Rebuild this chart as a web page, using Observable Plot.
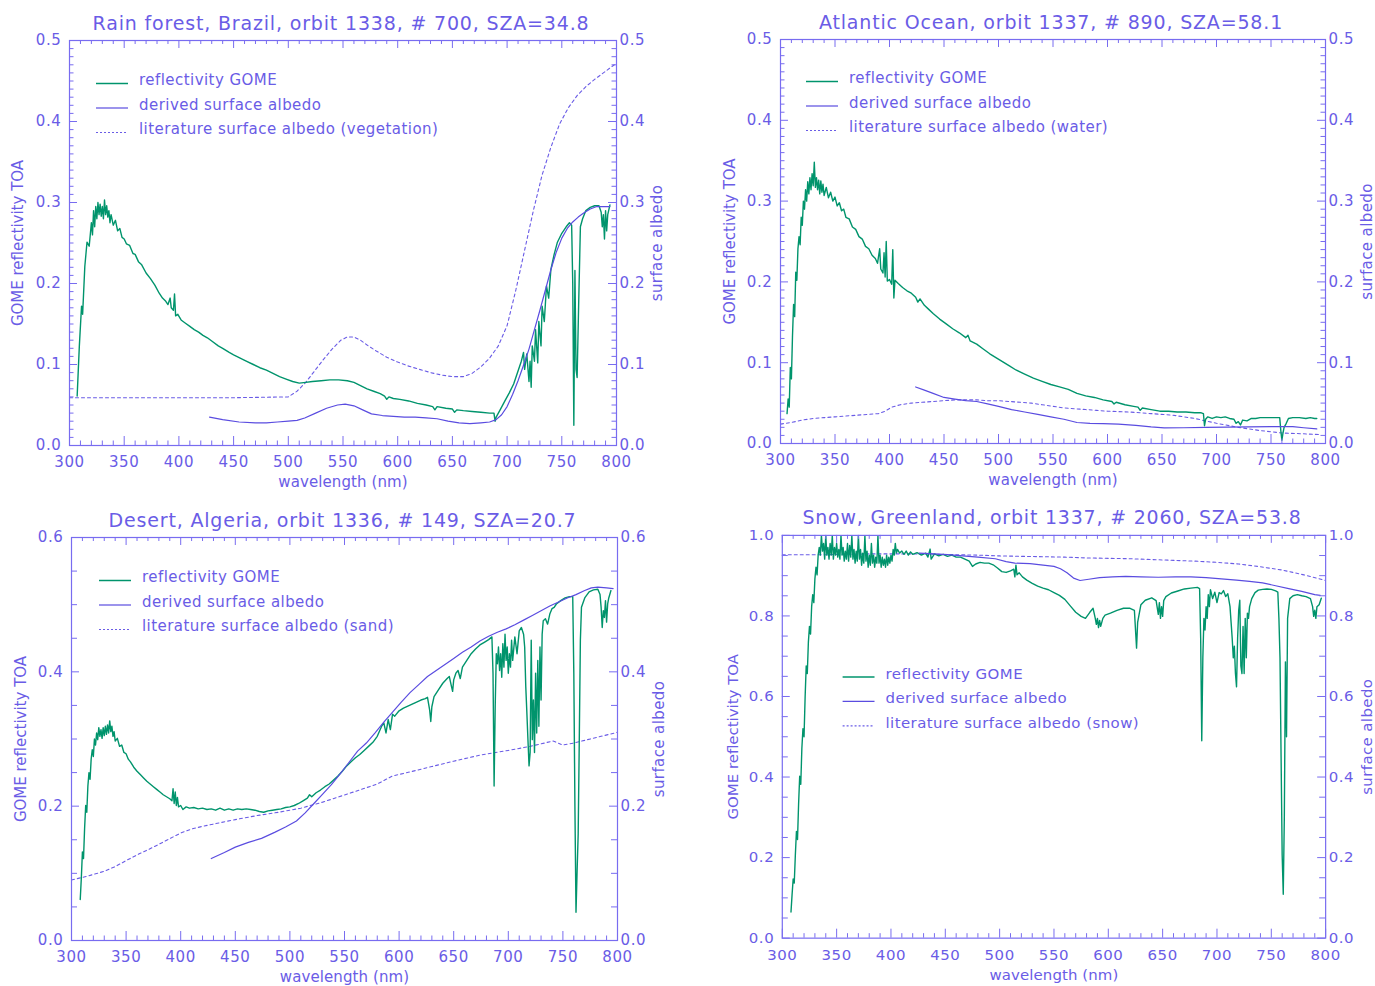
<!DOCTYPE html>
<html><head><meta charset="utf-8">
<script src="https://cdn.jsdelivr.net/npm/d3@7"></script>
<script src="https://cdn.jsdelivr.net/npm/@observablehq/plot@0.6"></script>
<style>
html,body{margin:0;padding:0;background:#fff;overflow:hidden;}
#wrap{position:relative;width:1375px;height:986px;}
.panel{position:absolute;}
.panel svg text{letter-spacing:0.6px;}
</style></head><body><div id="wrap"></div>
<script>
// ---------- data ----------
const titles = [
  "Rain forest, Brazil, orbit 1338, # 700, SZA=34.8",
  "Atlantic Ocean, orbit 1337, # 890, SZA=58.1",
  "Desert, Algeria, orbit 1336, # 149, SZA=20.7",
  "Snow, Greenland, orbit 1337, # 2060, SZA=53.8"
];
const surfaceTypes = ["vegetation", "water", "sand", "snow"];
const legendLabels = ["reflectivity GOME", "derived surface albedo", "literature surface albedo"];
const xLabel = "wavelength (nm)";
const yLeftLabel = "GOME reflectivity TOA";
const yRightLabel = "surface albedo";
const wavelengthTicks = [300,350,400,450,500,550,600,650,700,750,800];
const yTicksLow = [0,0.1,0.2,0.3,0.4,0.5];
const yTicksDesert = [0,0.2,0.4,0.6];
const yTicksSnow = [0,0.2,0.4,0.6,0.8,1.0];

// Rain forest
const rainRefl = [[307,0.061],[309,0.123],[311,0.172],[312,0.162],[314,0.221],[316,0.251],[318,0.246],[320,0.275],[321,0.26],[322,0.29],[323,0.27],[324,0.295],[325,0.28],[326,0.3],[327,0.285],[328,0.298],[329,0.283],[330,0.295],[331,0.28],[332,0.303],[333,0.285],[334,0.296],[335,0.282],[336,0.29],[337,0.275],[338,0.285],[340,0.272],[342,0.278],[344,0.265],[346,0.268],[348,0.257],[350,0.255],[352,0.249],[355,0.247],[358,0.237],[360,0.236],[363,0.227],[366,0.223],[370,0.213],[374,0.206],[378,0.198],[382,0.188],[385,0.182],[388,0.178],[390,0.174],[392,0.182],[393,0.17],[395,0.167],[396,0.187],[397,0.16],[399,0.162],[402,0.155],[406,0.151],[410,0.147],[414,0.143],[418,0.14],[422,0.136],[426,0.133],[430,0.129],[436,0.123],[440,0.12],[446,0.115],[450,0.112],[456,0.108],[462,0.104],[468,0.1],[474,0.096],[480,0.093],[486,0.089],[492,0.085],[498,0.082],[504,0.079],[510,0.077],[516,0.078],[522,0.079],[530,0.08],[538,0.081],[546,0.081],[554,0.08],[560,0.078],[566,0.074],[572,0.07],[578,0.067],[584,0.064],[588,0.061],[590,0.057],[592,0.06],[596,0.058],[602,0.057],[610,0.055],[618,0.052],[626,0.05],[632,0.048],[634,0.044],[636,0.048],[644,0.046],[650,0.045],[652,0.041],[654,0.044],[660,0.043],[668,0.042],[676,0.041],[684,0.04],[688,0.04],[689,0.03],[690,0.035],[694,0.045],[698,0.055],[702,0.065],[706,0.076],[710,0.092],[713,0.104],[715,0.115],[716,0.094],[718,0.113],[720,0.079],[721,0.104],[722,0.072],[723,0.123],[725,0.104],[726,0.143],[728,0.102],[729,0.153],[731,0.123],[732,0.172],[734,0.153],[736,0.197],[738,0.182],[740,0.217],[743,0.236],[746,0.251],[750,0.262],[754,0.27],[757,0.275],[759,0.272],[760,0.2],[761,0.025],[762,0.216],[763,0.094],[764,0.084],[765.5,0.18],[767,0.27],[769,0.28],[772,0.29],[776,0.294],[780,0.296],[784,0.296],[786,0.288],[787,0.27],[788,0.285],[789,0.255],[790,0.29],[791,0.265],[792,0.285],[794,0.297]];
const rainDerived = [[428,0.035],[440,0.032],[455,0.029],[470,0.028],[480,0.028],[490,0.029],[500,0.03],[508,0.031],[515,0.034],[525,0.04],[535,0.046],[545,0.05],[552,0.051],[560,0.049],[568,0.044],[576,0.039],[586,0.037],[596,0.036],[606,0.035],[616,0.035],[626,0.034],[636,0.033],[646,0.03],[656,0.028],[666,0.027],[676,0.028],[684,0.029],[690,0.032],[695,0.038],[700,0.048],[705,0.063],[710,0.08],[715,0.099],[720,0.119],[725,0.143],[730,0.167],[735,0.192],[740,0.217],[745,0.239],[750,0.256],[755,0.268],[760,0.276],[765,0.282],[770,0.287],[776,0.292],[782,0.295],[788,0.295],[794,0.295]];
const rainLit = [[300,0.059],[350,0.059],[400,0.059],[450,0.059],[500,0.06],[508,0.067],[516,0.078],[524,0.092],[532,0.106],[540,0.119],[548,0.13],[554,0.134],[560,0.134],[566,0.13],[572,0.124],[580,0.117],[590,0.109],[600,0.103],[610,0.098],[620,0.094],[630,0.09],[640,0.087],[650,0.085],[660,0.085],[668,0.089],[676,0.097],[684,0.108],[692,0.123],[700,0.148],[708,0.192],[716,0.241],[724,0.29],[732,0.334],[740,0.368],[748,0.397],[756,0.417],[764,0.432],[772,0.443],[780,0.452],[790,0.462],[800,0.472]];

// Atlantic Ocean
const oceanRefl = [[306,0.037],[307,0.055],[308,0.045],[309,0.094],[310,0.08],[311,0.133],[312,0.172],[313,0.157],[314,0.212],[315,0.202],[316,0.241],[317,0.256],[318,0.246],[319,0.28],[320,0.27],[321,0.3],[322,0.29],[323,0.314],[324,0.3],[325,0.324],[326,0.309],[327,0.329],[328,0.314],[329,0.334],[330,0.319],[331,0.348],[332,0.317],[333,0.329],[334,0.314],[335,0.326],[336,0.309],[337,0.325],[338,0.311],[339,0.321],[340,0.307],[342,0.317],[344,0.304],[346,0.311],[348,0.3],[350,0.305],[352,0.294],[354,0.298],[356,0.288],[358,0.29],[360,0.28],[363,0.278],[366,0.268],[369,0.265],[372,0.256],[375,0.253],[378,0.244],[381,0.241],[384,0.233],[387,0.229],[389,0.223],[391,0.241],[392,0.216],[394,0.211],[395,0.236],[396,0.206],[397,0.25],[398,0.201],[400,0.203],[402,0.197],[403,0.24],[404,0.18],[405,0.202],[408,0.198],[412,0.193],[416,0.189],[420,0.186],[424,0.181],[426,0.175],[428,0.179],[432,0.171],[436,0.166],[440,0.161],[446,0.154],[452,0.148],[458,0.142],[464,0.137],[470,0.131],[472,0.134],[474,0.127],[480,0.123],[486,0.117],[492,0.111],[498,0.106],[504,0.101],[510,0.096],[516,0.091],[524,0.086],[532,0.081],[540,0.077],[548,0.073],[556,0.07],[564,0.067],[572,0.062],[580,0.059],[588,0.057],[596,0.054],[604,0.052],[606,0.049],[608,0.051],[616,0.048],[624,0.046],[628,0.045],[630,0.041],[632,0.044],[640,0.042],[648,0.04],[656,0.04],[664,0.039],[672,0.039],[680,0.038],[686,0.038],[688,0.037],[689,0.022],[690,0.03],[692,0.033],[696,0.031],[700,0.033],[704,0.032],[708,0.033],[712,0.031],[716,0.03],[718,0.025],[720,0.027],[722,0.023],[724,0.029],[728,0.028],[732,0.031],[736,0.031],[740,0.032],[744,0.032],[748,0.032],[752,0.032],[756,0.032],[758,0.032],[759,0.016],[760,0.004],[761,0.013],[762,0.02],[764,0.025],[766,0.031],[770,0.032],[776,0.032],[782,0.031],[786,0.032],[790,0.031],[792,0.031]];
const oceanDerived = [[424,0.07],[432,0.066],[440,0.062],[450,0.057],[460,0.055],[470,0.053],[480,0.052],[490,0.049],[500,0.046],[512,0.042],[524,0.039],[536,0.036],[548,0.033],[560,0.03],[572,0.026],[584,0.025],[596,0.0245],[610,0.024],[626,0.0225],[640,0.0205],[652,0.0193],[670,0.0195],[690,0.02],[710,0.0203],[730,0.0205],[750,0.021],[762,0.021],[770,0.021],[780,0.0195],[792,0.018]];
const oceanLit = [[300,0.024],[310,0.026],[320,0.029],[330,0.031],[340,0.032],[350,0.033],[360,0.034],[370,0.035],[380,0.036],[390,0.037],[396,0.04],[402,0.045],[410,0.048],[420,0.05],[430,0.051],[440,0.052],[450,0.053],[460,0.054],[470,0.054],[480,0.054],[490,0.053],[500,0.053],[510,0.052],[520,0.051],[530,0.05],[540,0.048],[550,0.046],[560,0.044],[570,0.043],[580,0.042],[590,0.041],[600,0.04],[620,0.039],[640,0.037],[660,0.035],[680,0.031],[700,0.025],[720,0.02],[740,0.016],[760,0.013],[780,0.012],[795,0.011]];

// Desert
const desertRefl = [[308,0.061],[309,0.093],[310,0.132],[311,0.122],[312,0.167],[313,0.201],[314,0.191],[315,0.23],[316,0.25],[317,0.24],[318,0.27],[319,0.284],[320,0.274],[321,0.3],[322,0.291],[323,0.309],[324,0.299],[325,0.317],[326,0.304],[327,0.314],[328,0.301],[329,0.317],[330,0.305],[331,0.319],[332,0.307],[333,0.321],[334,0.309],[335,0.327],[336,0.311],[337,0.319],[338,0.304],[339,0.311],[340,0.297],[342,0.301],[344,0.289],[346,0.291],[348,0.28],[350,0.278],[352,0.27],[354,0.266],[357,0.258],[360,0.252],[363,0.247],[366,0.242],[369,0.237],[372,0.233],[375,0.229],[378,0.225],[381,0.221],[384,0.217],[387,0.214],[390,0.211],[392,0.208],[393,0.226],[394,0.204],[395,0.221],[396,0.201],[397,0.213],[398,0.199],[400,0.201],[402,0.195],[405,0.199],[408,0.197],[412,0.198],[416,0.196],[420,0.197],[424,0.195],[428,0.196],[432,0.194],[436,0.197],[440,0.194],[444,0.196],[448,0.194],[452,0.196],[456,0.195],[460,0.196],[464,0.195],[468,0.194],[472,0.192],[476,0.191],[480,0.193],[484,0.194],[488,0.195],[492,0.196],[496,0.198],[500,0.199],[504,0.201],[508,0.204],[512,0.208],[516,0.212],[518,0.217],[520,0.214],[524,0.22],[528,0.224],[532,0.229],[536,0.233],[540,0.239],[544,0.245],[548,0.252],[552,0.26],[556,0.266],[560,0.272],[564,0.277],[568,0.283],[572,0.289],[576,0.295],[580,0.304],[584,0.319],[586,0.324],[588,0.309],[590,0.329],[592,0.314],[594,0.337],[596,0.334],[600,0.342],[604,0.346],[608,0.349],[612,0.352],[616,0.355],[620,0.358],[624,0.36],[626,0.362],[628,0.343],[629,0.326],[630,0.348],[632,0.363],[636,0.373],[640,0.383],[644,0.39],[646,0.393],[648,0.378],[649,0.371],[650,0.388],[652,0.398],[654,0.402],[656,0.39],[658,0.407],[662,0.417],[666,0.427],[670,0.434],[674,0.44],[678,0.444],[682,0.448],[685,0.452],[686,0.398],[687,0.23],[688,0.348],[689,0.427],[690,0.412],[691,0.437],[692,0.402],[693,0.427],[694,0.392],[695,0.442],[696,0.407],[697,0.456],[698,0.417],[699,0.437],[700,0.398],[701,0.427],[702,0.407],[703,0.447],[704,0.417],[706,0.452],[708,0.427],[710,0.461],[712,0.466],[714,0.456],[715,0.437],[716,0.378],[717,0.339],[718,0.299],[719,0.26],[720,0.28],[721,0.447],[722,0.299],[723,0.358],[724,0.28],[725,0.398],[726,0.309],[727,0.417],[728,0.319],[729,0.437],[730,0.358],[731,0.456],[732,0.476],[734,0.479],[736,0.471],[738,0.486],[740,0.494],[742,0.496],[744,0.501],[748,0.506],[752,0.51],[756,0.512],[759,0.512],[760,0.398],[761,0.2],[762,0.042],[763,0.103],[764,0.159],[765,0.299],[766,0.447],[767,0.496],[770,0.51],[774,0.519],[778,0.522],[782,0.523],[784,0.515],[785,0.496],[786,0.466],[787,0.491],[788,0.481],[789,0.506],[790,0.474],[791,0.501],[792,0.51],[794,0.521]];
const desertDerived = [[428,0.122],[440,0.131],[450,0.139],[462,0.146],[474,0.152],[486,0.161],[496,0.169],[506,0.178],[514,0.19],[522,0.204],[530,0.218],[538,0.232],[546,0.248],[554,0.265],[562,0.282],[570,0.294],[578,0.309],[586,0.325],[594,0.34],[602,0.355],[610,0.369],[618,0.381],[626,0.393],[634,0.402],[642,0.411],[650,0.42],[658,0.429],[666,0.437],[674,0.446],[682,0.453],[690,0.459],[698,0.464],[706,0.47],[714,0.477],[722,0.484],[730,0.491],[738,0.498],[746,0.504],[754,0.51],[762,0.515],[770,0.521],[776,0.525],[782,0.526],[790,0.525],[796,0.524]];
const desertLit = [[300,0.09],[315,0.096],[330,0.103],[340,0.11],[350,0.119],[362,0.129],[375,0.139],[388,0.15],[400,0.16],[410,0.166],[420,0.17],[435,0.175],[450,0.18],[470,0.186],[490,0.191],[510,0.197],[530,0.206],[545,0.214],[560,0.222],[580,0.233],[594,0.245],[610,0.251],[630,0.259],[650,0.267],[674,0.276],[700,0.283],[720,0.289],[741,0.297],[750,0.291],[760,0.294],[770,0.298],[785,0.304],[800,0.31]];

// Snow
const snowRefl = [[308,0.065],[309,0.108],[310,0.147],[311,0.137],[312,0.206],[313,0.265],[314,0.245],[315,0.333],[316,0.402],[317,0.382],[318,0.471],[319,0.52],[320,0.5],[321,0.598],[322,0.676],[323,0.657],[324,0.735],[325,0.774],[326,0.755],[327,0.823],[328,0.853],[329,0.833],[330,0.892],[331,0.921],[332,0.902],[333,0.951],[334,0.97],[335,0.951],[336,1.0],[337,0.961],[338,0.98],[339,0.941],[340,1.0],[341,0.951],[342,0.97],[343,0.941],[344,0.98],[345,0.951],[346,1.0],[347,0.941],[348,0.97],[349,0.951],[350,0.98],[351,0.946],[352,0.965],[353,0.941],[354,1.0],[355,0.951],[356,0.97],[357,0.936],[358,0.961],[359,0.941],[360,0.98],[361,0.936],[362,0.975],[363,0.946],[364,1.0],[365,0.941],[366,0.965],[367,0.931],[368,0.961],[369,0.936],[370,1.0],[371,0.941],[372,0.965],[373,0.926],[374,0.956],[375,0.931],[376,1.0],[377,0.936],[378,0.961],[379,0.921],[380,0.951],[381,0.926],[382,0.98],[383,0.931],[384,0.951],[385,0.921],[386,0.946],[387,0.931],[388,1.0],[389,0.931],[390,0.951],[391,0.921],[392,0.946],[393,0.926],[394,0.941],[395,0.921],[396,0.951],[397,0.926],[398,0.946],[399,0.931],[400,0.951],[401,0.936],[402,0.965],[403,0.951],[404,0.98],[405,0.956],[406,0.965],[408,0.956],[410,0.961],[412,0.953],[414,0.961],[416,0.951],[418,0.959],[420,0.953],[424,0.957],[428,0.951],[432,0.956],[434,0.946],[436,0.966],[437,0.941],[440,0.954],[444,0.949],[448,0.953],[452,0.948],[456,0.951],[460,0.946],[464,0.946],[468,0.941],[472,0.936],[475,0.923],[478,0.929],[482,0.933],[486,0.931],[490,0.931],[494,0.927],[498,0.919],[502,0.91],[506,0.908],[510,0.912],[513,0.916],[514,0.897],[515,0.926],[516,0.902],[518,0.907],[521,0.897],[525,0.889],[530,0.881],[535,0.874],[540,0.869],[545,0.865],[550,0.858],[555,0.851],[560,0.841],[565,0.825],[570,0.809],[575,0.799],[579,0.794],[583,0.809],[586,0.819],[588,0.794],[589,0.779],[590,0.794],[591,0.771],[592,0.789],[593,0.774],[595,0.794],[597,0.802],[602,0.807],[608,0.814],[614,0.819],[620,0.819],[624,0.814],[626,0.72],[627,0.784],[630,0.828],[634,0.839],[640,0.845],[644,0.838],[646,0.804],[647,0.833],[648,0.794],[649,0.823],[650,0.799],[651,0.838],[653,0.848],[658,0.857],[664,0.862],[670,0.867],[676,0.869],[682,0.871],[684,0.868],[685,0.745],[686,0.49],[687,0.696],[688,0.794],[689,0.765],[690,0.823],[691,0.794],[692,0.853],[693,0.823],[694,0.865],[696,0.843],[698,0.859],[700,0.833],[702,0.858],[704,0.855],[706,0.863],[708,0.848],[710,0.855],[712,0.823],[713,0.784],[714,0.745],[715,0.696],[716,0.725],[717,0.657],[718,0.624],[719,0.745],[720,0.814],[721,0.839],[722,0.676],[723,0.657],[724,0.774],[725,0.657],[726,0.794],[727,0.696],[728,0.807],[729,0.794],[730,0.823],[732,0.843],[735,0.858],[738,0.864],[742,0.866],[746,0.867],[750,0.866],[754,0.862],[756,0.859],[757,0.794],[758,0.696],[759,0.451],[760,0.206],[761,0.109],[762,0.304],[763,0.686],[764,0.5],[765,0.794],[767,0.843],[770,0.85],[774,0.853],[778,0.85],[782,0.848],[786,0.843],[788,0.823],[789,0.799],[790,0.814],[791,0.794],[792,0.823],[794,0.828],[796,0.844]];
const snowDerived = [[426,0.956],[440,0.954],[452,0.952],[466,0.949],[480,0.946],[496,0.942],[506,0.935],[514,0.931],[528,0.93],[540,0.926],[550,0.923],[556,0.917],[562,0.907],[568,0.894],[574,0.888],[582,0.891],[592,0.895],[604,0.897],[616,0.898],[630,0.897],[646,0.896],[662,0.897],[676,0.897],[690,0.895],[704,0.892],[718,0.889],[730,0.886],[742,0.882],[754,0.875],[766,0.868],[778,0.861],[790,0.853],[795,0.851]];
const snowLit = [[300,0.952],[320,0.952],[340,0.952],[360,0.953],[380,0.954],[400,0.954],[420,0.954],[440,0.953],[460,0.952],[480,0.951],[500,0.949],[520,0.948],[540,0.947],[560,0.946],[580,0.944],[600,0.943],[620,0.942],[640,0.94],[660,0.938],[680,0.936],[700,0.933],[720,0.929],[740,0.922],[760,0.914],[780,0.902],[800,0.888]];

// ---------- styling ----------
const textColor = "#6a5ce6";
const axisColor = "#786cf0";
const greenColor = "#00946c";
const derivedColor = "#5a4ce0";
const litColor = "#6a5ce6";
const fmt = d3.format(".1f");

const panels = [
  {title: titles[0], surface: surfaceTypes[0], frame: [69,616,40,445], yMax: 0.5, yMajor: yTicksLow, yMinorStep: 0.01, minorLen: 4.5,
   refl: rainRefl, derived: rainDerived, lit: rainLit, legend: {dx: 27, dy: 40}, labelDx: [-51.5, 41]},
  {title: titles[1], surface: surfaceTypes[1], frame: [780,1325,39,443], yMax: 0.5, yMajor: yTicksLow, yMinorStep: 0.01, minorLen: 4.5,
   refl: oceanRefl, derived: oceanDerived, lit: oceanLit, legend: {dx: 26, dy: 39}, labelDx: [-50, 41.5]},
  {title: titles[2], surface: surfaceTypes[2], frame: [71,617,537,940], yMax: 0.6, yMajor: yTicksDesert, yMinorStep: 0.05, minorLen: 6,
   refl: desertRefl, derived: desertDerived, lit: desertLit, legend: {dx: 28, dy: 40}, labelDx: [-50.5, 41.5]},
  {title: titles[3], surface: surfaceTypes[3], frame: [782,1327,535,939], yMax: 1.0, yMajor: yTicksSnow, yMinorStep: 0.05, minorLen: 6,
   refl: snowRefl, derived: snowDerived, lit: snowLit, legend: {dx: 61, dy: 139}, labelDx: [-49.5, 42]}
];

function legendMark(p) {
  return (index, scales, values, dims) => {
    const g = d3.create("svg:g")
      .attr("font-family", "DejaVu Sans").attr("font-size", 15).attr("fill", textColor)
      .attr("text-anchor", "start");
    const items = [
      {label: legendLabels[0], color: greenColor, width: 1.5, dash: null},
      {label: legendLabels[1], color: derivedColor, width: 1.2, dash: null},
      {label: `${legendLabels[2]} (${p.surface})`, color: litColor, width: 1.2, dash: "2,2"}
    ];
    items.forEach((it, i) => {
      const y = dims.marginTop + p.legend.dy + i * 24.5;
      const x = dims.marginLeft + p.legend.dx;
      const line = g.append("line").attr("x1", x).attr("x2", x + 32)
        .attr("y1", y + 3.5).attr("y2", y + 3.5)
        .attr("stroke", it.color).attr("stroke-width", it.width);
      if (it.dash) line.attr("stroke-dasharray", it.dash);
      g.append("text").attr("x", x + 43).attr("y", y).attr("dy", "0.36em")
        .attr("text-anchor", "start")
        .style("letter-spacing", "0.45px").text(it.label);
    });
    return g.node();
  };
}

function makePanel(p) {
  const [x0, x1, y0, y1] = p.frame;
  const mL = 69, mR = 50, mT = 39, mB = 50;
  const W = x1 - x0, H = y1 - y0;
  const n = Math.round(p.yMax / p.yMinorStep);
  const yMinor = d3.range(0, n + 1).map(i => +(i * p.yMinorStep).toFixed(3))
    .filter(v => !p.yMajor.some(m => Math.abs(m - v) < 1e-6));
  const xMinor = d3.range(300, 801, 10).filter(d => d % 50 !== 0);
  const ts = {stroke: axisColor, strokeWidth: 1};
  const acc = {x: d => d[0], y: d => d[1]};
  const plot = Plot.plot({
    width: W + mL + mR, height: H + mT + mB,
    marginLeft: mL, marginRight: mR, marginTop: mT, marginBottom: mB,
    x: {domain: [300, 800]},
    y: {domain: [0, p.yMax]},
    style: {fontFamily: "DejaVu Sans", fontSize: "15px", color: textColor, background: "transparent", overflow: "visible"},
    marks: [
      Plot.line(p.lit, {...acc, stroke: litColor, strokeWidth: 1.1, strokeDasharray: "3,3", clip: true}),
      Plot.line(p.refl, {...acc, stroke: greenColor, strokeWidth: 1.4, clip: true}),
      Plot.line(p.derived, {...acc, stroke: derivedColor, strokeWidth: 1.2, clip: true}),
      Plot.frame({stroke: axisColor, strokeWidth: 1.2}),
      Plot.tickX(wavelengthTicks, {x: d => d, insetTop: H - 9, ...ts}),
      Plot.tickX(xMinor, {x: d => d, insetTop: H - 4.5, ...ts}),
      Plot.tickX(wavelengthTicks, {x: d => d, insetBottom: H - 8, ...ts}),
      Plot.tickX(xMinor, {x: d => d, insetBottom: H - 4, ...ts}),
      Plot.tickY(p.yMajor, {y: d => d, insetRight: W - 8, ...ts}),
      Plot.tickY(yMinor, {y: d => d, insetRight: W - p.minorLen, ...ts}),
      Plot.tickY(p.yMajor, {y: d => d, insetLeft: W - 8, ...ts}),
      Plot.tickY(yMinor, {y: d => d, insetLeft: W - p.minorLen, ...ts}),
      Plot.axisX(wavelengthTicks, {anchor: "bottom", tickSize: 0, tickPadding: 11, label: null, tickFormat: d => String(d), fill: textColor}),
      Plot.axisY(p.yMajor, {anchor: "left", tickSize: 0, tickPadding: 8, label: null, tickFormat: fmt, fill: textColor}),
      Plot.axisY(p.yMajor, {anchor: "right", tickSize: 0, tickPadding: 3, label: null, tickFormat: fmt, fill: textColor}),
      Plot.text([p.title], {text: d => d, frameAnchor: "top", dy: -17, dx: -2, lineAnchor: "middle", fontSize: 19, fill: textColor}),
      Plot.text([xLabel], {text: d => d, frameAnchor: "bottom", dy: 37, lineAnchor: "middle", fill: textColor}),
      Plot.text([yLeftLabel], {text: d => d, frameAnchor: "left", dx: p.labelDx[0], rotate: -90, textAnchor: "middle", lineAnchor: "middle", fill: textColor}),
      Plot.text([yRightLabel], {text: d => d, frameAnchor: "right", dx: p.labelDx[1], rotate: -90, textAnchor: "middle", lineAnchor: "middle", fill: textColor}),
      legendMark(p)
    ]
  });
  // per-text letter spacing tweaks (inline style overrides the stylesheet)
  d3.select(plot).selectAll("text").each(function() {
    const t = this.textContent;
    if (t === p.title) this.style.letterSpacing = "0.83px";
    else if (t === yLeftLabel) this.style.letterSpacing = "0px";
    else if (t === yRightLabel) this.style.letterSpacing = "0.4px";
    else if (t === xLabel) this.style.letterSpacing = "0.1px";
  });
  const div = document.createElement("div");
  div.className = "panel";
  div.style.left = (x0 - mL) + "px";
  div.style.top = (y0 - mT) + "px";
  div.appendChild(plot);
  return div;
}

const wrap = document.getElementById("wrap");
panels.forEach(p => wrap.appendChild(makePanel(p)));
</script>
</body></html>
